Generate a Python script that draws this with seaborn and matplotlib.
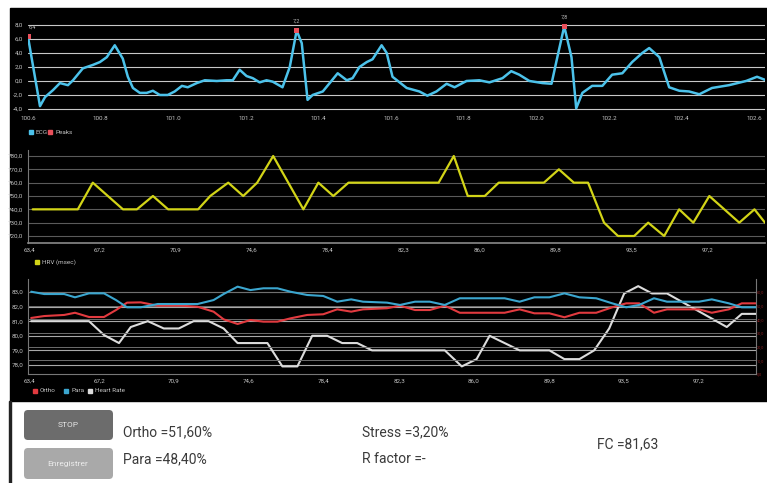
import numpy as np
import pandas as pd
import matplotlib
matplotlib.use("Agg")
import matplotlib.pyplot as plt
import seaborn as sns
from matplotlib.patches import Rectangle, FancyBboxPatch

# ---------------- DATA ----------------
ecg_time = [100.600, 100.633, 100.647, 100.669, 100.688, 100.710, 100.724, 100.751, 100.779, 100.798,
            100.817, 100.839, 100.861, 100.875, 100.889, 100.908, 100.927, 100.944, 100.963, 100.985,
            101.004, 101.024, 101.040, 101.065, 101.087, 101.120, 101.147, 101.164, 101.183, 101.202,
            101.219, 101.238, 101.257, 101.274, 101.301, 101.321, 101.340, 101.354, 101.370, 101.384,
            101.412, 101.431, 101.453, 101.478, 101.494, 101.513, 101.533, 101.549, 101.574, 101.588,
            101.604, 101.643, 101.678, 101.700, 101.725, 101.753, 101.775, 101.808, 101.843, 101.871,
            101.907, 101.931, 101.953, 101.981, 102.017, 102.042, 102.058, 102.077, 102.097, 102.110,
            102.127, 102.154, 102.182, 102.209, 102.237, 102.264, 102.292, 102.311, 102.339, 102.366,
            102.394, 102.421, 102.449, 102.484, 102.531, 102.578, 102.608, 102.633]
ecg_mv = [6.3, -3.6, -2.3, -1.3, -0.3, -0.6, 0.1, 1.8, 2.3, 2.7,
          3.4, 5.1, 3.2, 0.6, -1.0, -1.7, -1.7, -1.4, -2.0, -2.0,
          -1.5, -0.7, -0.9, -0.3, 0.1, 0.0, 0.1, 0.1, 1.6, 0.7,
          0.4, -0.2, 0.1, -0.1, -0.9, 2.0, 7.2, 5.4, -2.7, -2.0,
          -1.5, -0.3, 1.1, 0.1, 0.4, 2.0, 2.7, 3.1, 5.1, 4.0,
          0.6, -1.0, -1.5, -2.1, -1.5, -0.4, -0.9, 0.0, 0.1, -0.2,
          0.4, 1.4, 0.9, 0.0, -0.3, -0.4, 3.4, 7.8, 3.4, -3.9,
          -1.7, -0.7, -0.7, 0.9, 1.1, 2.7, 4.0, 4.7, 3.4, -0.9,
          -1.4, -1.5, -1.9, -1.0, -0.6, 0.0, 0.6, 0.1]
peak_time = [100.600, 101.340, 102.077]
peak_mv = [6.4, 7.2, 7.8]
peak_text = ["6,4", "7,2", "7,8"]
ecg_xticks = [100.6, 100.8, 101.0, 101.2, 101.4, 101.6, 101.8, 102.0, 102.2, 102.4, 102.6]
ecg_xlabels = ["100.6", "100.8", "101.0", "101.2", "101.4", "101.6", "101.8", "102.0", "102.2", "102.4", "102.6"]
ecg_yticks = [-4, -2, 0, 2, 4, 6, 8]

hrv_time = [63.88, 66.11, 66.85, 68.34, 69.03, 69.82, 70.57, 72.05, 72.65, 73.54,
            74.28, 74.97, 75.76, 77.25, 77.99, 78.73, 79.48, 83.93, 84.68, 85.37,
            86.21, 86.90, 89.13, 89.87, 90.61, 91.31, 92.10, 92.79, 93.59, 94.28,
            95.07, 95.81, 96.51, 97.30, 98.04, 98.78, 99.53, 100.05]
hrv_ms = [740, 740, 760, 740, 740, 750, 740, 740, 750, 760,
          750, 760, 780, 740, 760, 750, 760, 760, 780, 750,
          750, 760, 760, 770, 760, 760, 730, 720, 720, 730,
          720, 740, 730, 750, 740, 730, 740, 730]
hrv_yticks = [720, 730, 740, 750, 760, 770, 780]

time_ticks = [63.72, 67.2, 70.95, 74.7, 78.45, 82.2, 85.95, 89.7, 93.45, 97.2]
time_labels = ["63,4", "67,2", "70,9", "74,6", "78,4", "82,3", "86,0", "89,8", "93,5", "97,2"]

op_time = [63.81, 64.46, 65.46, 66.00, 66.70, 67.45, 68.05, 68.60, 69.29, 70.14,
           71.29, 72.13, 72.93, 73.43, 74.13, 74.77, 75.42, 76.12, 76.77, 77.61,
           78.41, 79.11, 79.81, 80.40, 81.60, 82.25, 83.00, 83.74, 84.49, 85.24,
           87.48, 88.23, 88.97, 89.72, 90.47, 91.22, 92.06, 92.86, 93.56, 94.21,
           94.95, 95.60, 97.20, 97.84, 98.69, 99.34, 100.04]
ortho = [41.0, 42.4, 43.2, 44.8, 41.7, 41.7, 46.8, 52.2, 52.4, 50.0,
         50.0, 49.2, 45.6, 40.0, 36.6, 39.5, 38.3, 38.3, 40.7, 43.2,
         43.7, 47.3, 45.6, 47.3, 48.1, 50.0, 46.8, 46.8, 50.0, 44.8,
         44.8, 47.3, 44.4, 44.4, 41.5, 44.8, 44.8, 48.8, 51.7, 51.7,
         44.8, 47.3, 47.3, 44.8, 47.3, 51.7, 51.7]
para = [60.2, 58.5, 58.5, 56.1, 59.0, 59.0, 54.1, 48.8, 48.8, 51.2,
        51.2, 51.2, 54.1, 58.5, 63.9, 61.4, 62.7, 62.7, 60.2, 57.8,
        57.1, 52.9, 54.6, 52.9, 52.2, 50.5, 52.9, 52.9, 50.5, 55.4,
        55.4, 52.9, 56.1, 56.1, 59.0, 56.1, 55.4, 51.7, 48.8, 50.5,
        55.4, 52.9, 52.9, 54.6, 51.7, 48.8, 48.8]
hr_time = [63.81, 66.70, 67.45, 68.20, 68.79, 69.64, 70.44, 71.19, 71.93, 72.68,
           73.43, 74.13, 75.62, 76.37, 77.12, 77.86, 78.61, 79.36, 80.11, 80.85,
           84.49, 85.34, 86.08, 86.73, 87.48, 88.23, 89.72, 90.47, 91.22, 91.96,
           92.71, 93.46, 94.16, 94.85, 95.60, 98.59, 99.34, 100.04]
hr = [81.0, 81.0, 80.05, 79.5, 80.6, 81.0, 80.5, 80.5, 81.0, 81.0,
      80.5, 79.5, 79.5, 77.9, 77.9, 80.0, 80.0, 79.5, 79.5, 79.0,
      79.0, 77.9, 78.4, 80.0, 79.5, 79.0, 79.0, 78.4, 78.4, 79.0,
      80.5, 82.9, 83.4, 82.9, 82.9, 80.6, 81.5, 81.5]
hr_yticks = [78, 79, 80, 81, 82, 83]
pct_yticks = [0, 10, 20, 30, 40, 50, 60]

# ---------------- FIGURE ----------------
sns.set_theme(style="dark")
plt.rcParams['font.family'] = ['Roboto', 'DejaVu Sans']

W, H = 767, 483
fig = plt.figure(figsize=(W / 100, H / 100), dpi=100)
fig.patch.set_facecolor('white')

# overlay axes in pixel coordinates for background / texts / buttons
ov = fig.add_axes([0, 0, 1, 1])
ov.set_xlim(0, W)
ov.set_ylim(H, 0)
ov.axis('off')
ov.set_zorder(-5)
ov.add_patch(Rectangle((10, 8), W - 10, 393, color='black', zorder=0))
ov.add_patch(Rectangle((9, 401), 2, H - 401, color='#222222', zorder=0))

TICK_C = '#c4c4c4'


def px_axes(l, t, r, b):
    ax = fig.add_axes([l / W, 1 - b / H, (r - l) / W, (b - t) / H])
    ax.set_facecolor('none')
    for s in ax.spines.values():
        s.set_visible(False)
    ax.tick_params(colors=TICK_C, labelsize=4.5, length=0, pad=3.5)
    ax.set_xlabel('')
    ax.set_ylabel('')
    return ax


def legend_item(x, y, color, text):
    ov.add_patch(Rectangle((x, y - 2.2), 4.4, 4.4, color=color, zorder=2))
    ov.text(x + 7, y, text, color=TICK_C, fontsize=4.6, va='center', ha='left', zorder=2)


# ---- ECG panel ----
ax1 = px_axes(28, 20, 765, 111)
sns.lineplot(x=ecg_time, y=ecg_mv, ax=ax1, color='#4cc2ea', lw=1.8, legend=False, zorder=3)
sns.scatterplot(x=peak_time, y=peak_mv, ax=ax1, color='#e8505b', marker='s', s=14,
                edgecolor='none', zorder=4, legend=False)
for t, v, s in zip(peak_time, peak_mv, peak_text):
    ax1.annotate(s, (t, v), xytext=(0 if t > 100.7 else 3, 5), textcoords='offset points',
                 ha='center', va='bottom', fontsize=4, color='#bbbbbb', annotation_clip=False)
ax1.set_xlim(100.6, 102.63)
ax1.set_ylim(-4.29, 8.71)
ax1.set_yticks(ecg_yticks)
ax1.set_yticklabels([f"{v:.1f}".replace('.', ',') for v in ecg_yticks])
ax1.set_xticks(ecg_xticks)
ax1.set_xticklabels(ecg_xlabels)
ax1.yaxis.grid(True, color='#c8c8c8', lw=0.8)
ax1.xaxis.grid(False)
ax1.set_xlabel('')
ax1.set_ylabel('')
legend_item(29, 132, '#4cc2ea', 'ECG')
legend_item(48, 132, '#e8505b', 'Peaks')

# ---- HRV panel ----
ax2 = px_axes(28, 150, 765, 243)
sns.lineplot(x=hrv_time, y=hrv_ms, ax=ax2, color='#d2d417', lw=1.6, legend=False, zorder=3)
ax2.set_xlim(63.65, 100.05)
ax2.set_ylim(714.75, 784.5)
ax2.set_yticks(hrv_yticks)
ax2.set_yticklabels([f"{v:.1f}".replace('.', ',') for v in hrv_yticks])
ax2.set_xticks(time_ticks)
ax2.set_xticklabels(time_labels)
ax2.yaxis.grid(True, color='#5a5a5a', lw=0.8)
ax2.xaxis.grid(False)
ax2.spines['left'].set_visible(True)
ax2.spines['left'].set_color('#777777')
ax2.spines['left'].set_linewidth(0.8)
ax2.spines['bottom'].set_visible(True)
ax2.spines['bottom'].set_color('#8a8a8a')
ax2.spines['bottom'].set_linewidth(1.2)
ax2.set_xlabel('')
ax2.set_ylabel('')
legend_item(35, 262, '#d2d417', 'HRV (msec)')

# ---- Ortho / Para / Heart rate panel ----
ax3 = px_axes(28, 279, 756, 374)
sns.lineplot(x=hr_time, y=hr, ax=ax3, color='#dcdcdc', lw=1.5, legend=False, zorder=3)
ax3.set_xlim(63.65, 100.05)
ax3.set_ylim(77.38, 83.89)
ax3.set_yticks(hr_yticks)
ax3.set_yticklabels([f"{v:.1f}".replace('.', ',') for v in hr_yticks])
ax3.set_xticks(time_ticks)
ax3.set_xticklabels(time_labels)
ax3.yaxis.grid(True, color='#a8a8a8', lw=0.8)
ax3.xaxis.grid(False)
for side in ['left', 'right', 'bottom']:
    ax3.spines[side].set_visible(True)
    ax3.spines[side].set_color('#777777')
    ax3.spines[side].set_linewidth(0.8)
ax3.set_xlabel('')
ax3.set_ylabel('')

ax3r = ax3.twinx()
ax3r.set_facecolor('none')
for s in ax3r.spines.values():
    s.set_visible(False)
sns.lineplot(x=op_time, y=ortho, ax=ax3r, color='#e23a3f', lw=1.5, legend=False, zorder=3)
sns.lineplot(x=op_time, y=para, ax=ax3r, color='#3ba6cf', lw=1.5, legend=False, zorder=3)
ax3r.set_xlim(63.65, 100.05)
ax3r.set_ylim(0, 69.5)
ax3r.set_yticks(pct_yticks)
ax3r.set_yticklabels([f"{v:.1f}".replace('.', ',') for v in pct_yticks])
ax3r.tick_params(axis='y', colors='#8a1f22', labelsize=2.8, length=0, pad=0.8)
ax3r.yaxis.grid(True, color='#6e6e6e', lw=0.7)
ax3r.xaxis.grid(False)
ax3r.set_xlabel('')
ax3r.set_ylabel('')
legend_item(33, 391, '#e23a3f', 'Ortho')
legend_item(64, 391, '#3ba6cf', 'Para')
legend_item(88, 391, '#dcdcdc', 'Heart Rate')

# ---- bottom control area ----
ov.add_patch(FancyBboxPatch((24, 410), 89, 30, boxstyle="round,pad=0,rounding_size=4",
                            facecolor='#6c6c6c', edgecolor='none', zorder=2))
ov.add_patch(FancyBboxPatch((24, 448), 89, 31, boxstyle="round,pad=0,rounding_size=4",
                            facecolor='#a9a9a9', edgecolor='none', zorder=2))
ov.text(68, 425, 'STOP', color='#e6e6e6', fontsize=6, ha='center', va='center', zorder=3)
ov.text(68, 464, 'Enregistrer', color='#ececec', fontsize=6, ha='center', va='center', zorder=3)

TXT_C = '#3a3a3a'
ov.text(123, 432, 'Ortho =51,60%', color=TXT_C, fontsize=10, ha='left', va='center', zorder=3)
ov.text(123, 459, 'Para =48,40%', color=TXT_C, fontsize=10, ha='left', va='center', zorder=3)
ov.text(362, 432, 'Stress =3,20%', color=TXT_C, fontsize=10, ha='left', va='center', zorder=3)
ov.text(362, 459, 'R factor =-', color=TXT_C, fontsize=10, ha='left', va='center', zorder=3)
ov.text(597, 444, 'FC =81,63', color=TXT_C, fontsize=10, ha='left', va='center', zorder=3)

fig.savefig('out.png', dpi=100, facecolor='white')
